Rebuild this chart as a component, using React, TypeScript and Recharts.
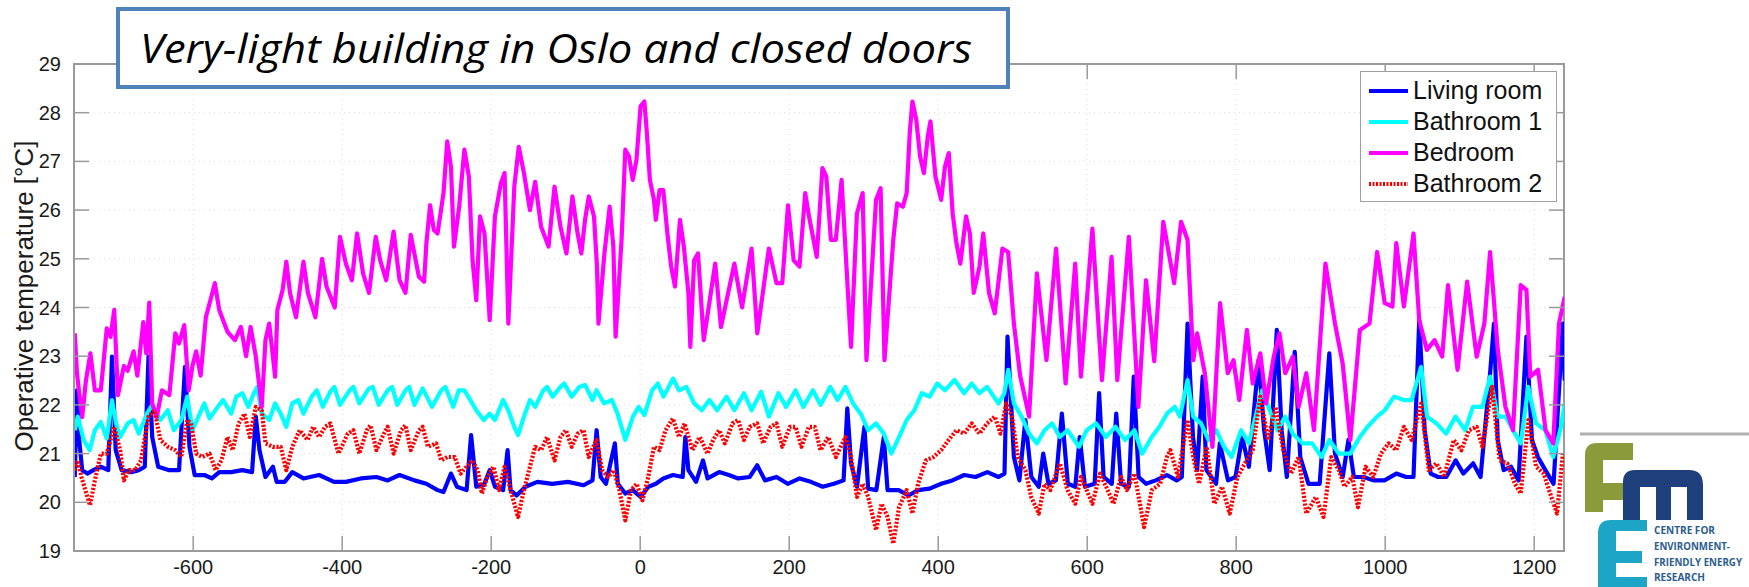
import React from "react";
import {
  LineChart,
  Line,
  XAxis,
  YAxis,
  CartesianGrid,
  ReferenceArea,
  Legend,
} from "recharts";

// hours around the reference day, operative temperature in °C
const livingRoom: [number, number][] = [
  [-759, 20.52], [-756, 22.3], [-753, 21.28], [-749, 20.66], [-742, 20.59], [-734, 20.66], [-724, 20.73],
  [-714, 20.66], [-709, 22.99], [-704, 21.07], [-696, 20.66], [-683, 20.62], [-673, 20.66], [-665, 20.73],
  [-660, 22.99], [-655, 21.34], [-647, 20.73], [-632, 20.66], [-619, 20.66], [-611, 22.78], [-605, 21.14],
  [-598, 20.56], [-585, 20.56], [-575, 20.49], [-565, 20.62], [-549, 20.62], [-534, 20.66], [-521, 20.62],
  [-516, 21.76], [-511, 21.07], [-503, 20.52], [-493, 20.73], [-488, 20.42], [-477, 20.42], [-467, 20.62],
  [-452, 20.49], [-431, 20.56], [-411, 20.42], [-395, 20.42], [-375, 20.49], [-354, 20.52], [-339, 20.45],
  [-323, 20.56], [-303, 20.45], [-287, 20.38], [-272, 20.25], [-264, 20.21], [-254, 20.59], [-246, 20.32],
  [-233, 20.25], [-227, 21.38], [-220, 20.32], [-210, 20.35], [-202, 20.66], [-195, 20.32], [-184, 20.25],
  [-178, 21.07], [-174, 20.25], [-166, 20.14], [-154, 20.32], [-138, 20.42], [-118, 20.38], [-97, 20.42],
  [-76, 20.35], [-64, 20.45], [-58.5, 21.48], [-53, 20.52], [-46, 20.38], [-34, 21.21], [-30, 20.38],
  [-20, 20.18], [-10, 20.25], [0.5, 20.11], [11, 20.32], [21, 20.38], [31, 20.49], [44, 20.56], [57, 20.52],
  [60.6, 21.34], [64.7, 20.66], [75, 20.42], [84.3, 20.86], [90.4, 20.49], [106, 20.62], [119, 20.56],
  [131.5, 20.49], [147, 20.52], [157, 20.76], [167.5, 20.45], [183, 20.52], [198, 20.38], [214, 20.49],
  [229, 20.42], [245, 20.32], [260, 20.38], [273, 20.45], [278, 21.93], [283, 20.8], [291, 20.32],
  [301, 21.55], [306, 20.28], [317, 20.25], [327, 21.34], [332, 20.25], [347, 20.25], [360, 20.14],
  [373, 20.25], [388.5, 20.28], [404, 20.38], [419, 20.45], [435, 20.56], [450, 20.52], [466, 20.62],
  [481, 20.52], [489, 20.59], [493, 23.4], [496.5, 22.44], [501.6, 20.93], [509, 20.45], [517, 21.69],
  [525, 20.52], [535, 20.32], [541, 21.0], [548, 20.38], [558, 20.45], [566, 21.82], [574, 20.38],
  [584, 20.32], [590, 21.34], [597, 20.32], [610, 20.38], [616, 22.24], [622, 20.52], [633, 20.38],
  [639, 21.82], [645.5, 20.38], [656, 20.32], [662.5, 22.58], [669, 20.52], [679, 20.38], [692, 20.45],
  [707, 20.56], [720, 20.45], [727, 20.52], [734.7, 23.67], [742, 21.34], [747.6, 20.66], [755, 22.58],
  [760, 20.66], [773, 20.38], [778, 21.21], [789, 20.45], [799, 20.52], [808, 21.34], [817, 20.73],
  [830, 22.92], [837.5, 21.48], [845, 20.66], [854.5, 23.54], [861, 21.48], [868, 20.52], [878.6, 23.09],
  [886, 20.93], [897, 20.38], [912, 20.38], [925, 23.06], [932.6, 21.0], [943, 20.52], [950.6, 21.28],
  [958, 20.52], [971, 20.52], [984, 20.45], [999, 20.45], [1015, 20.59], [1028, 20.52], [1038, 20.52],
  [1045.7, 23.74], [1053, 21.48], [1061, 20.59], [1071, 20.52], [1082, 20.52], [1094.5, 20.86], [1105, 20.59],
  [1118, 20.8], [1128, 20.52], [1140.8, 22.65], [1146, 23.67], [1151, 21.28], [1159, 20.66], [1169, 20.73],
  [1179, 20.45], [1189.6, 23.4], [1197, 21.28], [1205, 20.93], [1215, 20.66], [1226, 20.38], [1238.5, 23.67],
  [1241, 22.5],
];

const bathroom1: [number, number][] = [
  [-759, 21.48], [-755, 21.76], [-747, 21.28], [-739, 21.07], [-732, 21.48], [-724, 21.65], [-716, 21.31],
  [-709, 22.1], [-703.5, 21.62], [-698, 21.34], [-688, 21.62], [-680, 21.69], [-673, 21.41], [-662, 21.82],
  [-655, 22.0], [-644, 21.69], [-634, 21.89], [-626, 21.48], [-616, 21.69], [-608, 22.17], [-601, 21.48],
  [-593, 21.76], [-585, 22.03], [-578, 21.72], [-567, 21.96], [-560, 22.1], [-549, 21.82], [-542, 22.17],
  [-534, 22.24], [-526, 21.96], [-518.5, 22.24], [-514, 22.37], [-508, 21.82], [-498, 21.69], [-490, 22.03],
  [-482.5, 21.82], [-475, 21.55], [-467, 22.03], [-459, 22.1], [-452, 21.82], [-441, 22.17], [-434, 22.3],
  [-426, 21.96], [-416, 22.27], [-410.5, 22.37], [-403, 22.0], [-390, 22.3], [-385, 22.37], [-377, 22.03],
  [-364, 22.34], [-359, 22.37], [-351, 22.0], [-339, 22.3], [-333, 22.37], [-326, 22.0], [-315, 22.3],
  [-310, 22.37], [-303, 22.0], [-292, 22.34], [-279.5, 21.96], [-267, 22.3], [-261.5, 22.37], [-251, 21.96],
  [-243.5, 22.3], [-236, 22.3], [-228, 22.1], [-220, 21.89], [-210, 21.69], [-202, 21.82], [-195, 21.69],
  [-184, 22.1], [-177, 21.89], [-169, 21.55], [-164, 21.38], [-156, 21.76], [-148, 22.1], [-141, 21.96],
  [-130, 22.3], [-125, 22.37], [-117.5, 22.17], [-107, 22.37], [-102, 22.44], [-92, 22.17], [-81.6, 22.37],
  [-74, 22.41], [-64, 22.1], [-58.6, 22.3], [-48.4, 22.03], [-38, 22.1], [-30.4, 21.82], [-20, 21.28],
  [-9.8, 21.76], [-2, 21.96], [5.6, 21.79], [16, 22.3], [23.6, 22.44], [31.3, 22.17], [44.2, 22.54],
  [52, 22.3], [62, 22.37], [72.4, 22.03], [82.7, 21.89], [93, 22.1], [103.3, 21.89], [116, 22.17],
  [126.4, 21.89], [139.3, 22.24], [149.5, 21.89], [162.4, 22.27], [172.7, 21.76], [185.5, 22.24],
  [195.8, 21.96], [208.6, 22.3], [219, 21.96], [231.8, 22.3], [242, 22.0], [255, 22.37], [265, 22.1],
  [275.5, 22.37], [285.7, 22.03], [296, 21.82], [306, 21.48], [316.6, 21.62], [327, 21.41], [337, 21.0],
  [347.4, 21.34], [357.7, 21.69], [368, 21.89], [378, 22.24], [388.5, 22.17], [398.8, 22.44], [409, 22.3],
  [422, 22.51], [434.8, 22.24], [445, 22.44], [455.4, 22.24], [465.6, 22.37], [481, 22.03], [488.8, 22.24],
  [494, 22.72], [501.6, 22.03], [512, 21.76], [522, 21.41], [532.5, 21.21], [542.7, 21.48], [553, 21.62],
  [563.3, 21.34], [573.6, 21.48], [589, 21.14], [599.3, 21.48], [612, 21.62], [625, 21.34], [637.8, 21.55],
  [650.7, 21.28], [663.5, 21.48], [673.8, 21.0], [686.7, 21.34], [697, 21.55], [707, 21.82], [717.5, 21.96],
  [724.5, 21.76], [734.7, 22.51], [742.4, 21.76], [752.7, 21.62], [763, 21.28], [773.3, 21.48],
  [783.6, 21.14], [793.8, 20.93], [806.7, 21.48], [817, 21.21], [827, 21.82], [835, 22.3], [845, 21.89],
  [855.5, 21.48], [865.8, 21.76], [876, 21.41], [889, 21.21], [902, 21.21], [914.6, 20.93], [925, 21.28],
  [937.8, 21.0], [953, 21.0], [966, 21.34], [976.3, 21.55], [989, 21.76], [999.4, 21.89], [1012, 22.17],
  [1025, 22.1], [1035.4, 22.1], [1048.3, 22.78], [1056, 21.76], [1068.8, 21.62], [1081.7, 21.41],
  [1094.5, 21.76], [1107.4, 21.48], [1117.7, 21.96], [1130.5, 21.96], [1140.8, 22.58], [1151, 21.76],
  [1161.4, 21.76], [1171.6, 21.48], [1182, 21.21], [1192, 22.37], [1202.5, 21.62], [1215, 21.48],
  [1225.6, 20.93], [1236, 21.55], [1241, 22.03],
];

const bedroom: [number, number][] = [
  [-759, 23.47], [-756, 22.65], [-752, 22.1], [-749, 21.75], [-744, 22.5], [-738, 23.06], [-732, 22.3],
  [-724, 22.3], [-716, 23.57], [-711, 23.4], [-706, 23.95], [-701, 22.2], [-693, 22.8], [-688, 22.7],
  [-680, 23.1], [-675, 22.6], [-667, 23.7], [-663, 23.06], [-659, 24.1], [-655, 22.03], [-649, 21.75],
  [-642, 22.3], [-632, 22.2], [-624, 23.47], [-619, 23.26], [-612, 23.64], [-606, 22.3], [-601, 22.8],
  [-596, 23.1], [-590, 22.6], [-583, 23.8], [-576, 24.2], [-571, 24.5], [-565, 23.95], [-554, 23.5],
  [-544, 23.33], [-536, 23.6], [-529, 23.0], [-523, 23.6], [-516, 23.0], [-508, 21.96], [-503, 23.33],
  [-498, 23.67], [-490, 22.58], [-487, 23.95], [-480, 24.36], [-475, 24.94], [-470, 24.3], [-462, 23.8],
  [-452, 24.94], [-446, 24.3], [-436, 23.8], [-427, 25.0], [-421, 24.43], [-410, 24.0], [-403, 25.45],
  [-395, 24.9], [-387, 24.56], [-380, 25.52], [-372, 24.7], [-364, 24.3], [-355, 25.45], [-349, 24.97],
  [-341, 24.56], [-331, 25.56], [-323, 24.56], [-315, 24.3], [-308, 25.49], [-297, 24.63], [-290, 24.53],
  [-287, 25.32], [-282, 26.1], [-277, 25.59], [-272, 25.52], [-264, 26.35], [-259, 27.41], [-254, 26.89],
  [-250, 25.25], [-243, 26.07], [-236, 27.24], [-230, 26.69], [-225, 24.97], [-220, 24.15], [-215, 25.87],
  [-209, 25.52], [-202, 23.74], [-195, 25.87], [-187, 26.55], [-182, 26.76], [-177, 23.67], [-169, 26.48],
  [-163, 27.3], [-156, 26.76], [-148, 26.0], [-141, 26.58], [-133, 25.66], [-123, 25.25], [-115, 26.48],
  [-107, 25.66], [-99, 25.11], [-91, 26.28], [-84, 25.52], [-79, 25.11], [-74, 25.8], [-69, 26.28],
  [-62, 25.87], [-58, 24.84], [-56, 23.67], [-48, 25.11], [-41, 26.07], [-36, 25.25], [-33, 23.4],
  [-25, 25.39], [-20, 27.24], [-15, 27.1], [-10, 26.62], [-5, 27.03], [0.5, 28.13], [5.6, 28.23],
  [9, 27.58], [13, 26.62], [18.5, 26.21], [21, 25.8], [26, 26.41], [31, 26.41], [36.5, 25.52], [41.6, 24.84],
  [46.7, 24.43], [53.4, 25.8], [58.6, 25.25], [64.7, 24.3], [67.3, 23.19], [72.4, 24.97], [77.6, 25.11],
  [85.3, 23.33], [100.7, 24.9], [108.4, 23.6], [126.4, 24.9], [136.7, 24.0], [149.5, 25.21], [157.2, 23.47],
  [172.7, 25.21], [183, 24.5], [190.7, 24.5], [198.4, 26.1], [206, 24.97], [213.8, 24.84], [221.5, 26.35],
  [226.6, 25.87], [237, 25.04], [244.6, 26.86], [249.8, 26.69], [256, 25.39], [262.6, 25.39], [270.3, 26.62],
  [283, 23.19], [290.9, 25.93], [298.6, 26.35], [303.7, 22.92], [316.6, 26.21], [322.7, 26.45], [327.9, 22.92],
  [339.7, 25.39], [344.9, 26.14], [352.6, 26.07], [357.7, 26.35], [361.8, 27.58], [365.4, 28.23],
  [370.6, 27.85], [375.7, 27.1], [380.8, 26.76], [386, 27.51], [389.6, 27.82], [396.3, 26.69], [404, 26.21],
  [409.1, 26.89], [414.2, 27.17], [419.4, 25.93], [424.5, 25.32], [429.7, 24.9], [437.4, 25.87],
  [442.5, 25.52], [447.7, 24.3], [455.4, 24.84], [460.5, 25.52], [468.2, 24.3], [475.9, 23.88],
  [486.2, 25.21], [493.9, 25.14], [501.6, 23.67], [510, 22.6], [522, 21.76], [532.5, 24.7], [545.3, 22.92],
  [558.2, 25.21], [571, 22.44], [583.9, 24.9], [591.6, 22.58], [607, 25.62], [619.8, 22.51], [632.7, 25.04],
  [640.4, 22.51], [655.9, 25.45], [668.7, 21.96], [679, 24.56], [690, 22.9], [702.1, 25.76], [716.7, 24.5],
  [726, 25.76], [734.7, 25.39], [742.4, 22.92], [747.6, 23.47], [757.9, 22.65], [768.1, 21.14],
  [778.4, 24.09], [788.7, 22.65], [796.4, 22.92], [804.1, 22.1], [814.4, 23.54], [822.1, 22.44],
  [832.4, 23.06], [840.1, 22.03], [850.4, 22.99], [858.1, 23.47], [865.8, 22.65], [876.1, 22.99],
  [883.8, 21.96], [894.1, 22.65], [904.4, 21.48], [919.8, 24.9], [932.6, 23.67], [942.9, 22.85],
  [953.2, 21.28], [966, 23.54], [978.9, 23.67], [989.2, 25.14], [999.4, 24.09], [1009.7, 24.02],
  [1014.9, 25.32], [1025.1, 24.02], [1038, 25.52], [1045.7, 23.74], [1056, 23.13], [1066.3, 23.33],
  [1076.5, 22.99], [1084.3, 24.46], [1097.1, 22.72], [1110, 24.53], [1122.8, 22.99], [1133.1, 23.67],
  [1140.8, 25.14], [1151.1, 23.13], [1161.4, 21.96], [1171.6, 21.48], [1181.9, 24.46], [1189.6, 24.36],
  [1194.8, 22.58], [1205.2, 22.72], [1215.3, 21.48], [1225.6, 21.21], [1233.3, 23.67], [1241, 24.22],
];

const bathroom2: [number, number][] = [
  [-759, 20.66], [-755, 20.86], [-750, 20.52], [-742, 20.11], [-738.5, 19.94], [-732, 20.45], [-724, 21.0],
  [-716, 21.0], [-706, 21.55], [-698, 21.07], [-693, 20.45], [-686, 20.66], [-678, 20.66], [-670, 20.86],
  [-660, 21.76], [-652, 21.89], [-644, 21.28], [-634, 21.14], [-624, 21.07], [-616, 20.93], [-608, 21.69],
  [-603, 21.62], [-596, 21.0], [-588, 20.93], [-578, 21.0], [-570, 20.66], [-562, 20.86], [-554, 21.34],
  [-547, 21.07], [-539, 21.62], [-531, 21.82], [-524, 21.34], [-516, 21.96], [-508, 21.89], [-503, 21.21],
  [-493, 21.14], [-482.5, 21.14], [-475, 20.66], [-467, 21.14], [-457, 21.48], [-446.5, 21.28],
  [-439, 21.55], [-431, 21.34], [-423, 21.55], [-416, 21.62], [-405, 21.0], [-392.5, 21.41], [-385, 21.48],
  [-377, 21.0], [-367, 21.48], [-362, 21.58], [-354, 21.07], [-344, 21.41], [-339, 21.55], [-331, 21.0],
  [-321, 21.48], [-315, 21.58], [-308, 21.07], [-297, 21.48], [-292, 21.55], [-285, 21.14], [-274, 21.21],
  [-267, 20.86], [-259, 20.93], [-249, 20.93], [-241, 20.59], [-233, 20.73], [-225.5, 20.86], [-218, 20.66],
  [-212.6, 20.18], [-205, 20.52], [-197, 20.73], [-189.5, 20.25], [-182, 20.73], [-174, 20.25],
  [-164, 19.7], [-156, 20.25], [-148, 20.73], [-141, 21.14], [-133, 21.07], [-125, 21.34], [-115, 20.86],
  [-107, 21.34], [-99.6, 21.48], [-92, 21.14], [-84, 21.41], [-76, 21.48], [-69, 20.93], [-61, 21.21],
  [-58.6, 21.28], [-51, 20.66], [-43, 20.52], [-35.5, 20.66], [-28, 20.25], [-20, 19.63], [-12.4, 20.25],
  [-4.7, 20.38], [3, 20.04], [10.8, 20.52], [18.5, 21.14], [26, 21.07], [34, 21.48], [44, 21.72],
  [52, 21.34], [59.6, 21.62], [70, 21.07], [80, 21.34], [90.4, 21.0], [98, 21.28], [106, 21.48],
  [113.6, 21.21], [124, 21.62], [131.5, 21.69], [139.3, 21.28], [147, 21.55], [157, 21.62], [165, 21.21],
  [175, 21.55], [183, 21.62], [190.7, 21.14], [201, 21.55], [208.6, 21.55], [216.4, 21.14], [226.6, 21.55],
  [234.3, 21.55], [242, 21.07], [252.3, 21.34], [262.6, 20.93], [275.5, 21.34], [283, 20.93], [291, 20.11],
  [298.6, 20.38], [306, 20.11], [316.6, 19.43], [324, 19.97], [332, 19.7], [339.7, 19.15], [347.4, 19.9],
  [357.7, 20.25], [365.4, 19.77], [373, 20.38], [383.4, 20.86], [393.7, 20.93], [404, 21.07], [414, 21.28],
  [424.5, 21.48], [434.8, 21.41], [445, 21.62], [455.4, 21.41], [465.6, 21.62], [476, 21.76], [483.6, 21.41],
  [491.3, 22.03], [499, 21.76], [506.8, 20.93], [517, 20.66], [524.8, 20.11], [535, 19.77], [542.7, 20.38],
  [550.5, 20.25], [563.3, 20.8], [573.6, 20.25], [584, 19.97], [591.6, 20.52], [599.3, 20.25], [607, 19.97],
  [617.3, 20.59], [627.5, 20.25], [635.3, 19.97], [645.5, 20.52], [653.2, 20.25], [663.5, 20.59],
  [676.4, 19.49], [686.7, 20.25], [698, 20.38], [707, 20.93], [711.6, 21.07], [721.9, 20.52], [734.7, 21.69],
  [742.4, 20.93], [750.2, 20.38], [760.4, 21.14], [770.7, 19.97], [781, 20.32], [791.3, 19.77],
  [801.6, 20.52], [811.8, 20.8], [822.1, 21.07], [832.4, 22.17], [842.7, 21.28], [853, 21.96],
  [863.2, 21.07], [873.5, 20.59], [883.8, 20.93], [894.1, 19.77], [906.9, 20.11], [917.2, 19.7],
  [927.5, 20.93], [937.8, 20.66], [945.5, 20.32], [955.8, 20.52], [963.5, 19.9], [973.7, 20.73],
  [984, 20.52], [994.3, 21.0], [1004.6, 21.21], [1014.9, 21.07], [1025.1, 21.55], [1035.4, 21.28],
  [1048.3, 22.03], [1058.5, 20.66], [1068.8, 20.8], [1079.1, 20.52], [1092, 21.28], [1102.2, 21.07],
  [1112.5, 21.48], [1122.8, 21.55], [1130.5, 21.14], [1143.4, 22.37], [1153.6, 20.86], [1163.9, 20.8],
  [1174.2, 20.38], [1181.9, 20.18], [1192.2, 21.69], [1202.5, 20.73], [1212.8, 20.59], [1223, 20.11],
  [1230.7, 19.77], [1238.5, 21.0],
];

const xTicks = [-600, -400, -200, 0, 200, 400, 600, 800, 1000, 1200];
const yTicks = [19, 20, 21, 22, 23, 24, 25, 26, 27, 28, 29];

const seriesNames = ["Living room", "Bathroom 1", "Bedroom", "Bathroom 2"];
const seriesColors = ["#0000ff", "#00ffff", "#ff00ff", "#ff0000"];

const toRows = (pts: [number, number][]) => pts.map(([t, v]) => ({ t, v }));

const W = 1749;
const H = 587;
const PLOT_LEFT = 74;
const PLOT_RIGHT = 1564;
const PLOT_TOP = 64;
const PLOT_BOTTOM = 551;
const AXIS = "#9a9a9a";
const FONT = "'Liberation Sans', Arial, sans-serif";

const XTick = (props: any) => {
  const { x, payload } = props;
  return (
    <g>
      <line x1={x} x2={x} y1={PLOT_BOTTOM} y2={PLOT_BOTTOM - 15} stroke={AXIS} strokeWidth={1.5} />
      <line x1={x} x2={x} y1={PLOT_TOP} y2={PLOT_TOP + 15} stroke={AXIS} strokeWidth={1.5} />
      <text x={x} y={567} textAnchor="middle" dominantBaseline="central" fontSize={20} fontFamily={FONT} fill="#1a1a1a">
        {payload.value}
      </text>
    </g>
  );
};

const YTick = (props: any) => {
  const { y, payload } = props;
  return (
    <g>
      <line x1={PLOT_LEFT} x2={PLOT_LEFT + 15} y1={y} y2={y} stroke={AXIS} strokeWidth={1.5} />
      <line x1={PLOT_RIGHT} x2={PLOT_RIGHT - 15} y1={y} y2={y} stroke={AXIS} strokeWidth={1.5} />
      <text x={61} y={y} textAnchor="end" dominantBaseline="central" fontSize={20} fontFamily={FONT} fill="#1a1a1a">
        {payload.value}
      </text>
    </g>
  );
};

const YLabel = () => (
  <text
    x={24}
    y={296}
    transform="rotate(-90 24 296)"
    textAnchor="middle"
    dominantBaseline="central"
    fontSize={26}
    fontFamily={FONT}
    fill="#1a1a1a"
  >
    Operative temperature [°C]
  </text>
);

const LegendBox = () => (
  <div
    style={{
      width: 197,
      height: 131,
      boxSizing: "border-box",
      border: "1.5px solid #a0a0a0",
      background: "#fff",
      fontFamily: FONT,
      fontSize: 25,
      color: "#111",
      paddingTop: 3,
    }}
  >
    {seriesNames.map((name, i) => (
      <div key={name} style={{ display: "flex", alignItems: "center", height: 31, lineHeight: "31px" }}>
        <svg width={52} height={31}>
          <line
            x1={8}
            x2={47}
            y1={16}
            y2={16}
            stroke={seriesColors[i]}
            strokeWidth={4}
            strokeDasharray={i === 3 ? "2 1.5" : undefined}
          />
        </svg>
        <span style={{ whiteSpace: "nowrap" }}>{name}</span>
      </div>
    ))}
  </div>
);

// title box and centre logo sitting on top of the figure
const Overlay = () => (
  <svg width={W} height={H} style={{ position: "absolute", left: 0, top: 0, pointerEvents: "none" }}>
    <rect x={118} y={9} width={890} height={78} fill="#fff" stroke="#4f81bd" strokeWidth={4} />
    <text
      x={140}
      y={63}
      fontSize={40}
      fontStyle="italic"
      fontFamily="'Open Sans', 'Liberation Sans', sans-serif"
      fill="#000"
      textLength={832}
      lengthAdjust="spacingAndGlyphs"
    >
      Very-light building in Oslo and closed doors
    </text>

    <line x1={1580} x2={W} y1={434} y2={434} stroke="#b0b0b0" strokeWidth={3} />
    <path
      d="M1585,512 L1585,455 Q1585,443 1597,443 L1633,443 L1633,460 L1603,460 L1603,483 L1630,483 L1630,500 L1603,500 L1603,512 Z"
      fill="#8b9a3a"
    />
    <path
      d="M1623,520 L1623,482 Q1623,470 1635,470 L1689,470 Q1703,470 1703,485 L1703,520 L1687,520 L1687,487 L1671,487 L1671,520 L1656,520 L1656,487 L1640,487 L1640,520 Z"
      fill="#1f3f7c"
    />
    <path
      d="M1647,520 L1611,520 Q1598,520 1598,533 L1598,587 L1647,587 L1647,577 L1616,577 L1616,563 L1642,563 L1642,551 L1616,551 L1616,531 L1647,531 Z"
      fill="#1ca5c7"
    />
    <g fontFamily="'Open Sans', 'Liberation Sans', sans-serif" fontWeight="bold" fontSize={10.5} fill="#2b5d8e">
      <text x={1654} y={534} textLength={61} lengthAdjust="spacingAndGlyphs">CENTRE FOR</text>
      <text x={1654} y={550} textLength={76} lengthAdjust="spacingAndGlyphs">ENVIRONMENT-</text>
      <text x={1654} y={566} textLength={88} lengthAdjust="spacingAndGlyphs">FRIENDLY ENERGY</text>
      <text x={1654} y={581} textLength={51} lengthAdjust="spacingAndGlyphs">RESEARCH</text>
    </g>
  </svg>
);

const seriesData = [livingRoom, bathroom1, bedroom, bathroom2].map(toRows);

export default function App() {
  return (
    <div style={{ position: "absolute", left: 0, top: 0, width: W, height: H, background: "#fff" }}>
      <LineChart
        width={W}
        height={H}
        margin={{ top: PLOT_TOP, right: W - PLOT_RIGHT, left: 0, bottom: 0 }}
      >
        <CartesianGrid stroke="#dcdcdc" strokeDasharray="1 4" />
        <XAxis
          dataKey="t"
          type="number"
          domain={[-760, 1240]}
          ticks={xTicks}
          allowDataOverflow
          height={H - PLOT_BOTTOM}
          tickLine={false}
          axisLine={{ stroke: AXIS, strokeWidth: 2 }}
          tick={<XTick />}
          interval={0}
        />
        <YAxis
          type="number"
          domain={[19, 29]}
          ticks={yTicks}
          allowDataOverflow
          width={PLOT_LEFT}
          tickLine={false}
          axisLine={{ stroke: AXIS, strokeWidth: 2 }}
          tick={<YTick />}
          interval={0}
          label={<YLabel />}
        />
        <ReferenceArea x1={-760} x2={1240} y1={19} y2={29} fill="none" stroke={AXIS} strokeWidth={2} />
        {seriesNames.map((name, i) => (
          <Line
            key={name}
            name={name}
            data={seriesData[i]}
            dataKey="v"
            type="linear"
            stroke={seriesColors[i]}
            strokeWidth={4.2}
            strokeDasharray={i === 3 ? "2.2 1.6" : undefined}
            strokeLinejoin="round"
            dot={false}
            isAnimationActive={false}
          />
        ))}
        <Legend
          layout="horizontal"
          verticalAlign="middle"
          align="center"
          content={() => <LegendBox />}
          wrapperStyle={{ left: 1360, top: 71, width: 197, height: 131 }}
        />
      </LineChart>
      <Overlay />
    </div>
  );
}
